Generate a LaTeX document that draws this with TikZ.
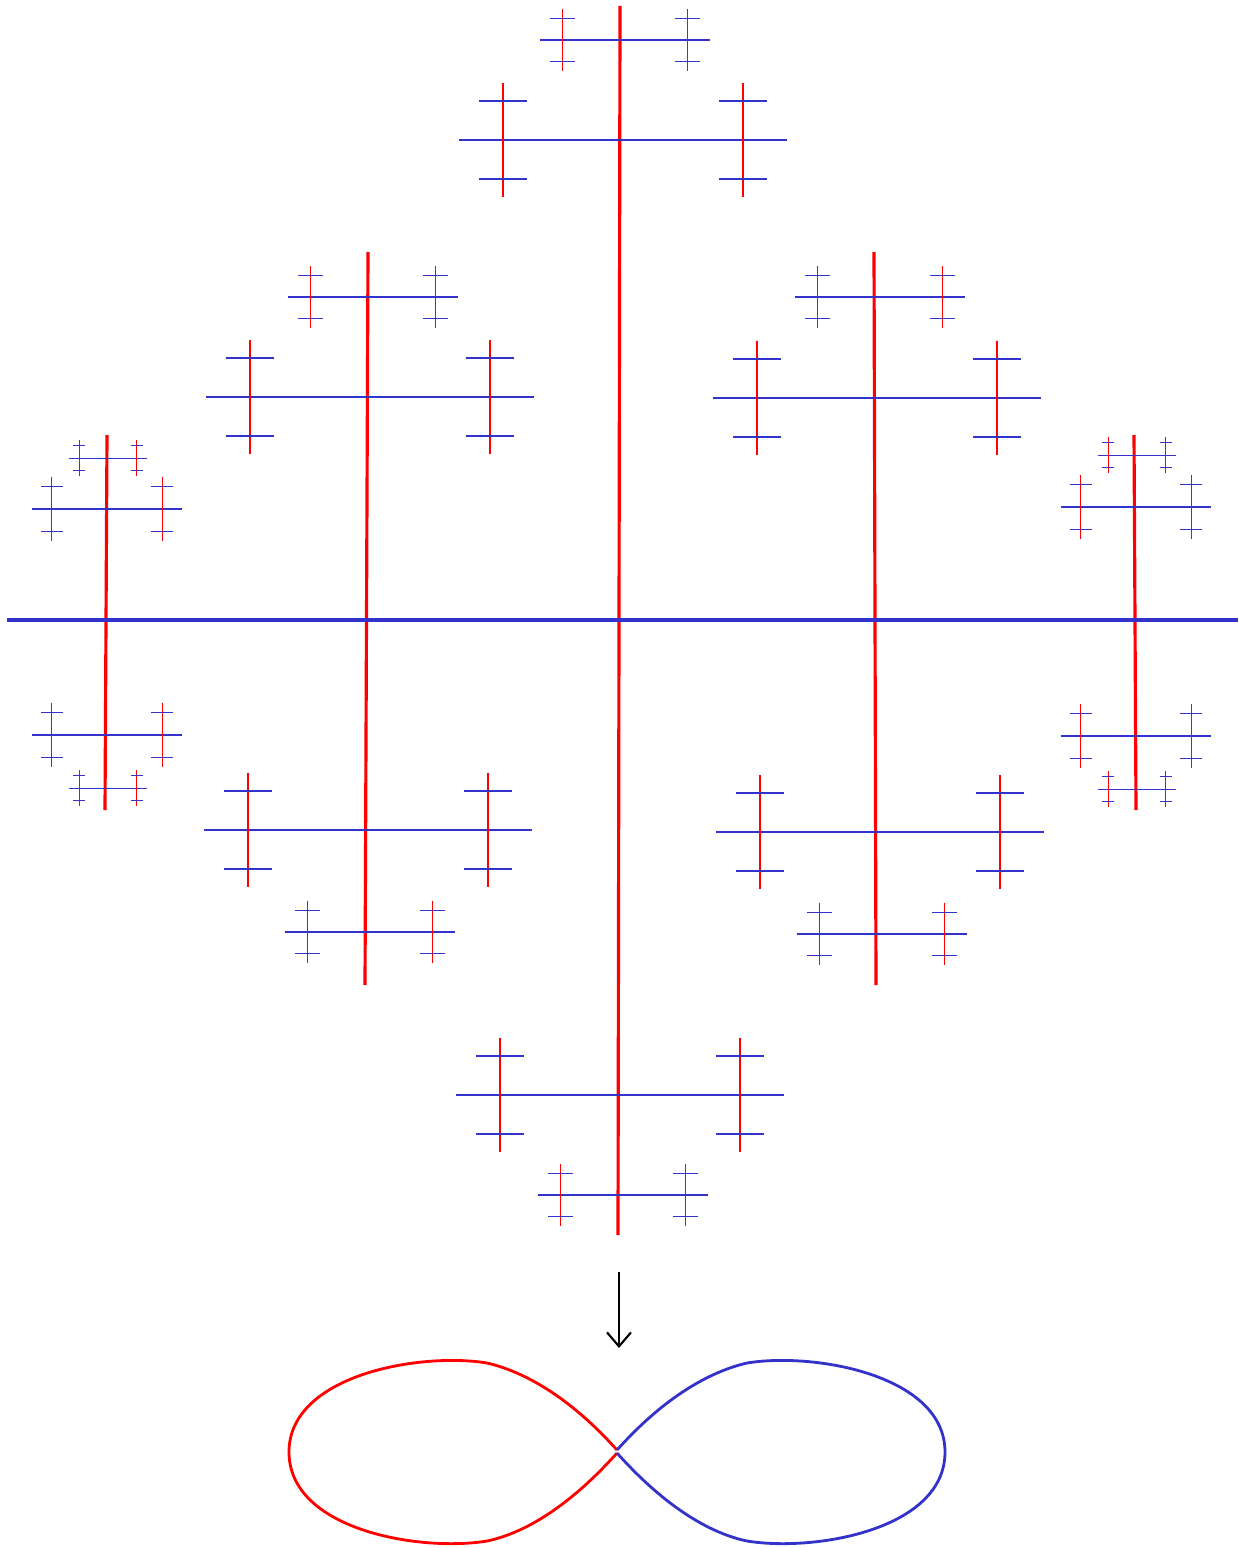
\documentclass[tikz,border=0pt]{standalone}
\usepackage{tikz}
\usetikzlibrary{arrows.meta}
\definecolor{genred}{RGB}{255,0,0}
\definecolor{genblue}{RGB}{51,51,204}

\tikzset{
  redaxis/.style={genred,line width=1.8pt},
  blueaxis/.style={genblue,line width=1.8pt},
  loopline/.style={line width=1.6pt},
  mapsto/.style={black,line width=1.2pt,-{Straight Barb[length=2.8mm,width=4.8mm]}}
}

% H piece: blue bar, red bars at its two ends, blue ticks on those
\newcommand{\hpiece}[5]{%
  \draw[genblue,line width=#5] ({#1-164*#3},#2) -- ({#1+164*#3},#2);
  \foreach \sd in {-1,1}{
    \draw[genred,line width=#5] ({#1+\sd*120*#3},{#2-57*#4}) -- ({#1+\sd*120*#3},{#2+57*#4});
    \foreach \tk in {-1,1}
      \draw[genblue,line width=#5] ({#1+\sd*120*#3-24*#3},{#2+\tk*39*#4}) -- ({#1+\sd*120*#3+24*#3},{#2+\tk*39*#4});
  }}

\begin{document}
\begin{tikzpicture}[x=0.02cm,y=-0.02cm]
\useasboundingbox (0,0) rectangle (1239,1548);

% red vertical lines through the axis
\draw[redaxis] (620,6) -- (618,1235);
\draw[redaxis] (368,252) -- (365,985);
\draw[redaxis] (874,252) -- (876,985);
\draw[redaxis] (107,435) -- (105,810);
\draw[redaxis] (1134,435) -- (1136,810);
% blue axis
\draw[blueaxis] (7,620) -- (1238,620);

% pieces hanging on the red lines
\foreach \cx/\cy/\sx/\sy/\lw in {
  625/40/0.52/0.55/0.85pt, 623/140/1/1/0.85pt, 620/1095/1/1/0.85pt, 623/1195/0.52/0.55/0.85pt,
  373/297/0.52/0.55/0.85pt, 370/397/1/1/0.85pt, 368/830/1/1/0.85pt, 370/932/0.52/0.55/0.85pt,
  880/297/0.52/0.55/0.85pt, 877/398/1/1/0.85pt, 880/832/1/1/0.85pt, 882/934/0.52/0.55/0.85pt,
  108/458/0.24/0.31/0.5pt, 107/509/0.46/0.57/0.6pt, 107/735/0.46/0.57/0.6pt, 108/788/0.24/0.31/0.5pt,
  1137/455/0.24/0.31/0.5pt, 1136/507/0.46/0.57/0.6pt, 1136/736/0.46/0.57/0.6pt, 1137/789/0.24/0.31/0.5pt}
  \hpiece{\cx}{\cy}{\sx}{\sy}{\lw};

% the map down to the figure eight
\coordinate (treeend) at (619,1272);
\coordinate (eighttop) at (619,1348);
\draw[mapsto] (treeend) -- (eighttop);

\draw[loopline,genred] (617,1450) .. controls (575,1403) and (530,1373) .. (487,1363)
  .. controls (420,1352) and (289,1375) .. (289,1452)
  .. controls (289,1530) and (420,1552) .. (487,1541)
  .. controls (530,1532) and (575,1500) .. (617,1453);
\draw[loopline,genblue] (617,1450) .. controls (659,1403) and (704,1373) .. (747,1363)
  .. controls (814,1352) and (945,1375) .. (945,1452)
  .. controls (945,1530) and (814,1552) .. (747,1541)
  .. controls (704,1532) and (659,1500) .. (617,1453);
\end{tikzpicture}
\end{document}
